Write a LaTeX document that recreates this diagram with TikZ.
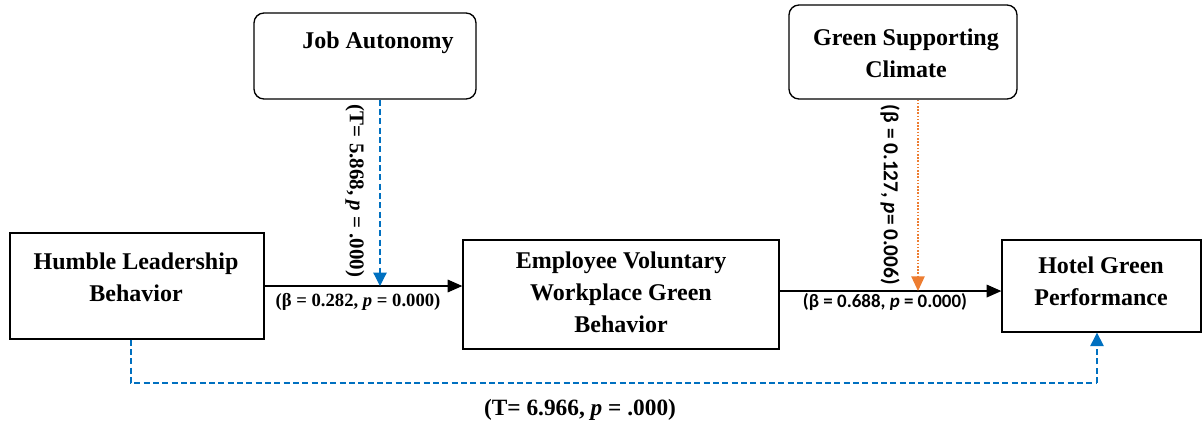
\documentclass[tikz,border=0pt]{standalone}
\usepackage{fontspec}
\setmainfont{Liberation Serif}
\newfontfamily\calib{Carlito}
\usetikzlibrary{arrows.meta,fit}
\definecolor{dblue}{RGB}{0,112,192}
\definecolor{dorange}{RGB}{237,125,49}
\begin{document}
\begin{tikzpicture}[x=0.75pt,y=-0.75pt,
  box/.style={draw, line width=1pt, inner sep=0pt},
  rbox/.style={box, rounded corners=7.5pt},
  boxtext/.style={font=\fontsize{18}{24}\selectfont\bfseries, align=center, inner sep=0pt},
  coef/.style={font=\fontsize{14}{16}\selectfont\bfseries, inner sep=0pt},
  coefsans/.style={font=\calib\fontsize{14.2}{16}\selectfont\bfseries, inner sep=0pt},
  mainarrow/.style={line width=0.9pt, -{Triangle[length=11pt,width=9.5pt]}},
  modblue/.style={dblue, line width=0.9pt, dash pattern=on 4.5pt off 2.5pt, -{Triangle[length=10pt,width=10pt]}},
  modorange/.style={dorange, line width=1pt, dash pattern=on 1.2pt off 1.2pt, -{Triangle[length=11pt,width=10pt]}},
  direct/.style={dblue, line width=0.9pt, dash pattern=on 4.5pt off 2.5pt},
]
\useasboundingbox (0,0) rectangle (1203,425);

% boxes
\node[box, fit={(10,233) (264,339)}] (hl) {};
\node[box, fit={(463,240) (779,349)}] (emp) {};
\node[box, fit={(1002,240) (1201,332)}] (hot) {};
\node[rbox, fit={(254,13) (476,99)}] (ja) {};
\node[rbox, fit={(789,5) (1017,99)}] (gsc) {};

% box texts
\node[boxtext] (hlt) at (136,277) {Humble Leadership\\Behavior};
\node[boxtext] (empt) at (621,292) {Employee Voluntary\\Workplace Green\\Behavior};
\node[boxtext] (hott) at (1101,281) {Hotel Green\\Performance};
\node[boxtext] (jat) at (378,43) {Job Autonomy};
\node[boxtext] (gsct) at (906,53) {Green Supporting\\Climate};

% main paths
\draw[mainarrow] (hl.east) -- (hl.east -| emp.west);
\draw[mainarrow] ([yshift=2.6pt]emp.east) -- ([yshift=2.6pt]emp.east -| hot.west);

% moderators
\coordinate (jatip) at (380,286);
\coordinate (gstip) at (918,291);
\draw[modblue] (ja.south -| jatip) -- (jatip);
\draw[modorange] (gsc.south -| gstip) -- (gstip);

% direct effect
\coordinate (b1) at (131,383);
\coordinate (b2) at (1097,383);
\draw[direct] (hl.south -| b1) -- (b1) -- (b2);
\draw[direct, -{Triangle[length=10pt,width=10pt]}] (b2) -- (hot.south -| b2);

% labels
\node[coef] (l1) at (358,302) {(β = 0.282, \textit{p} = 0.000)};
\node[coefsans] (l2) at (885,302) {(β = 0.688, \textit{p} = 0.000)};
\node[coef, font=\fontsize{15.7}{18}\selectfont\bfseries, rotate=-90] (l3) at (355,191) {(T= 5.868, \textit{p} = .000)};
\node[coefsans, font=\calib\fontsize{16}{18}\selectfont\bfseries, rotate=-90] (l4) at (890,195) {(β = 0.127, \textit{p}= 0.006)};
\node[coef, font=\fontsize{17.5}{20}\selectfont\bfseries] (l5) at (580,410) {(T= 6.966, \textit{p} = .000)};
\end{tikzpicture}
\end{document}
